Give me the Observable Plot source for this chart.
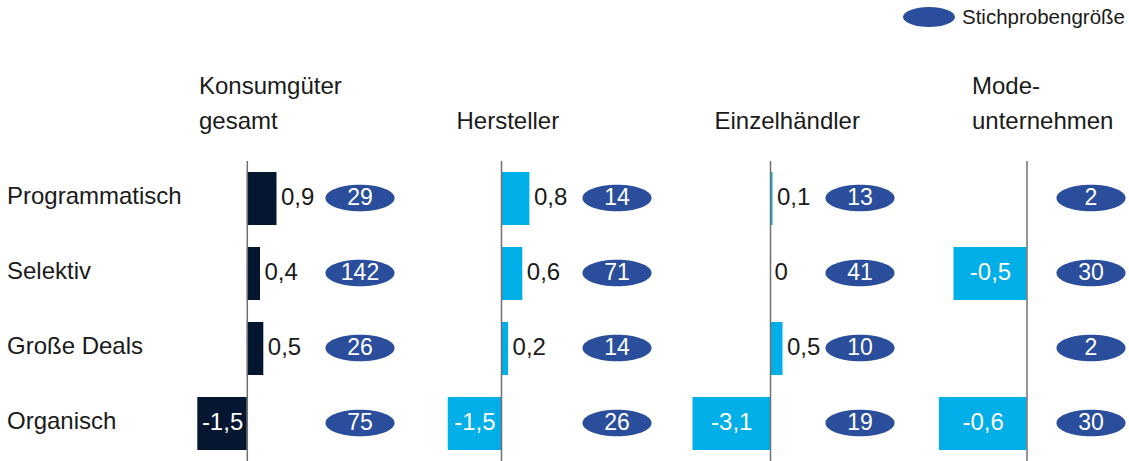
<!DOCTYPE html>
<html><head><meta charset="utf-8">
<script src="https://cdn.jsdelivr.net/npm/d3@7"></script>
<script src="https://cdn.jsdelivr.net/npm/@observablehq/plot@0.6"></script>
<style>
body{margin:0;background:#fff;font-family:"Liberation Sans",Arial,sans-serif;}
#chart{position:relative;width:1129px;height:461px;overflow:hidden;background:#fff;}
.title{position:absolute;top:67.5px;height:70px;display:flex;flex-direction:column;justify-content:flex-end;font-size:24px;line-height:35px;color:#1a1a1a;white-space:nowrap;}
.legend-dot{position:absolute;left:903px;top:7px;width:52px;height:20px;border-radius:50%;background:#2a4e9b;}
.legend-text{position:absolute;left:962px;top:7px;font-size:20.5px;line-height:20px;color:#1a1a1a;}
</style></head><body><div id="chart"></div>
<script>
// ---- data ----
const rows = ["Programmatisch", "Selektiv", "Große Deals", "Organisch"];
const panelTitles = [["Konsumgüter", "gesamt"], ["Hersteller"], ["Einzelhändler"], ["Mode-", "unternehmen"]];
const konsumValues = [0.9, 0.4, 0.5, -1.5];
const herstellerValues = [0.8, 0.6, 0.2, -1.5];
const einzelValues = [0.1, 0, 0.5, -3.1];
const modeValues = [null, -0.5, null, -0.6];
const konsumN = [29, 142, 26, 75];
const herstellerN = [14, 71, 14, 26];
const einzelN = [13, 41, 10, 19];
const modeN = [2, 30, 2, 30];
const legendLabel = "Stichprobengröße";

// ---- styles / layout ----
const navy = "#051631", cyan = "#00aee8", ovalColor = "#2a4e9b", axisColor = "#707070", textColor = "#1a1a1a";
const font = "Liberation Sans, Arial, sans-serif";
const panels = [
  {values: konsumValues, n: konsumN, color: navy, left: 190, width: 204, axis: 56.8, unit: 33, titleLeft: 199},
  {values: herstellerValues, n: herstellerN, color: cyan, left: 440, width: 211, axis: 61, unit: 35.5, titleLeft: 456.5},
  {values: einzelValues, n: einzelN, color: cyan, left: 680, width: 214, axis: 90, unit: 25, titleLeft: 714.5},
  {values: modeValues, n: modeN, color: cyan, left: 930, width: 195, axis: 96.5, unit: 146, titleLeft: 972}
];
const plotTop = 161, plotHeight = 301;
const yScale = {type: "band", domain: rows, paddingInner: 0.29, paddingOuter: 0.145, axis: null};
const fmt = v => String(v).replace(".", ",");
const ellipse = {
  draw(ctx, size) {
    const ry = Math.sqrt(size / Math.PI), rx = ry * 2.6, k = 0.5523;
    ctx.moveTo(rx, 0);
    ctx.bezierCurveTo(rx, k * ry, k * rx, ry, 0, ry);
    ctx.bezierCurveTo(-k * rx, ry, -rx, k * ry, -rx, 0);
    ctx.bezierCurveTo(-rx, -k * ry, -k * rx, -ry, 0, -ry);
    ctx.bezierCurveTo(k * rx, -ry, rx, -k * ry, rx, 0);
    ctx.closePath();
  }
};

const chart = document.getElementById("chart");
function place(el, left, top) {
  el.style.position = "absolute";
  el.style.left = left + "px";
  el.style.top = top + "px";
  chart.appendChild(el);
}

// legend
const ld = document.createElement("div"); ld.className = "legend-dot"; chart.appendChild(ld);
const lt = document.createElement("div"); lt.className = "legend-text"; lt.textContent = legendLabel; chart.appendChild(lt);

// titles
panels.forEach((p, i) => {
  const t = document.createElement("div");
  t.className = "title";
  t.style.left = p.titleLeft + "px";
  panelTitles[i].forEach(line => { const s = document.createElement("div"); s.textContent = line; t.appendChild(s); });
  chart.appendChild(t);
});

// row labels
const labelPlot = Plot.plot({
  width: 190, height: plotHeight, margin: 0,
  y: yScale,
  style: {fontFamily: font, background: "transparent", overflow: "visible"},
  marks: [
    Plot.text(rows, {y: d => d, text: d => d, frameAnchor: "left", textAnchor: "start", dx: 6.5, dy: -3, fontSize: 24, fill: textColor})
  ]
});
place(labelPlot, 0, plotTop);

// panels
panels.forEach(p => {
  const data = rows.map((row, i) => ({row, value: p.values[i], n: p.n[i]}));
  const svg = Plot.plot({
    width: p.width, height: plotHeight, margin: 0,
    x: {domain: [0, 1], range: [p.axis, p.axis + p.unit], axis: null},
    y: yScale,
    style: {fontFamily: font, background: "transparent", overflow: "visible"},
    marks: [
      Plot.barX(data, {filter: d => d.value != null && d.value !== 0, x: "value", y: "row", fill: p.color}),
      Plot.ruleX([0], {stroke: axisColor, strokeWidth: 1.5}),
      Plot.text(data, {filter: d => d.value != null && d.value >= 0, x: "value", y: "row", text: d => fmt(d.value),
        textAnchor: "start", dx: 4, dy: -1.5, fontSize: 24, fill: textColor}),
      Plot.text(data, {filter: d => d.value != null && d.value < 0, x: d => d.value / 2, y: "row", text: d => fmt(d.value),
        textAnchor: "middle", dy: -1.5, fontSize: 24, fill: "white"}),
      Plot.dot(data, {y: "row", frameAnchor: "right", dx: -34.5, dy: -1, r: 13.3, symbol: ellipse, fill: ovalColor}),
      Plot.text(data, {y: "row", frameAnchor: "right", textAnchor: "middle", dx: -34.5, dy: -1, text: d => String(d.n), fontSize: 23, fill: "white"})
    ]
  });
  place(svg, p.left, plotTop);
});
</script>
</body></html>
